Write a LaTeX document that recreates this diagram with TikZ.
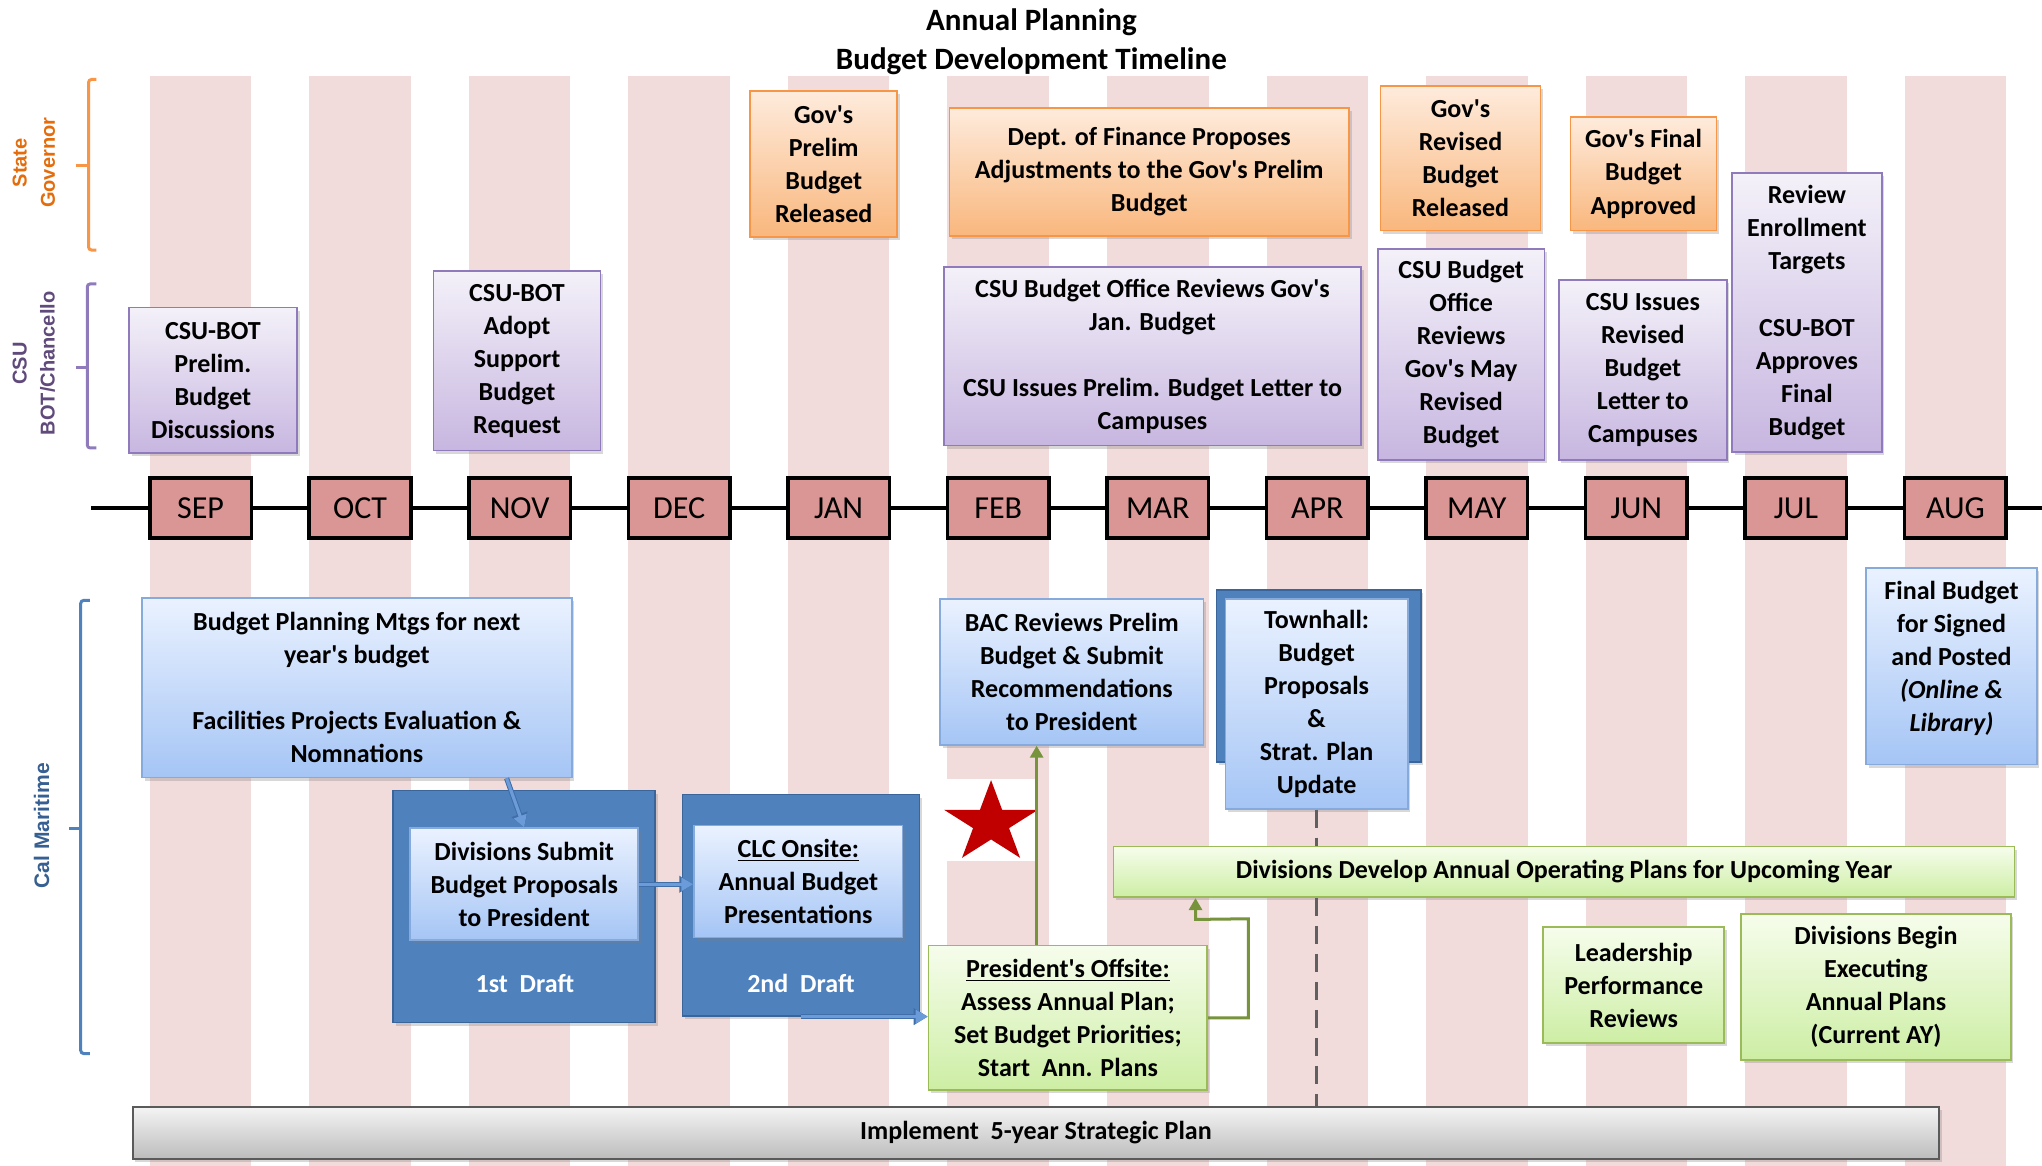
\documentclass[tikz,border=0pt]{standalone}
\usepackage{fontspec}
\setmainfont{Carlito}
\newfontfamily\lblfont{Liberation Sans}
\usetikzlibrary{shadows,arrows.meta,calc}
\definecolor{stripe}{HTML}{F2DCDB}
\definecolor{monthfill}{HTML}{DA9694}
\definecolor{oTop}{HTML}{FEEBDC}
\definecolor{oBot}{HTML}{F9B77D}
\definecolor{oBd}{HTML}{F79646}
\definecolor{pTop}{HTML}{F4F1F9}
\definecolor{pBot}{HTML}{C7B6E0}
\definecolor{pBd}{HTML}{8F7BBB}
\definecolor{bTop}{HTML}{EAF2FF}
\definecolor{bBot}{HTML}{A5C5F5}
\definecolor{bBd}{HTML}{86AADB}
\definecolor{dBl}{HTML}{4F81BD}
\definecolor{dBd}{HTML}{3A659B}
\definecolor{bArr}{HTML}{6B9BD8}
\definecolor{bArrEdge}{HTML}{3F6EA8}
\definecolor{gTop}{HTML}{F6FDEC}
\definecolor{gBot}{HTML}{CDEEA4}
\definecolor{gBd}{HTML}{9BBB59}
\definecolor{grTop}{HTML}{F4F4F4}
\definecolor{grBot}{HTML}{BCBCBC}
\definecolor{grBd}{HTML}{5A5A5A}
\definecolor{orLbl}{HTML}{E46C0A}
\definecolor{puLbl}{HTML}{604A7B}
\definecolor{blLbl}{HTML}{376092}
\definecolor{garr}{HTML}{77933C}
\definecolor{starred}{HTML}{C00000}
\newcommand\q{\textquotesingle}
\newcommand\mkbox[7]{\node[#2, minimum width={(#5-#3)*0.65pt}, minimum height={(#6-#4)*0.65pt}] (#1) at ({(#3+#5)/2},{(#4+#6)/2}) {#7};}
\tikzset{
  common/.style={draw, align=center, inner sep=0pt, line width=0.8pt,
    font=\bfseries\fontsize{13}{16.5}\selectfont,
    drop shadow={opacity=0.3, shadow xshift=1.3pt, shadow yshift=-1.6pt}},
  orangebox/.style={common, draw=oBd, top color=oTop, bottom color=oBot},
  purplebox/.style={common, draw=pBd, top color=pTop, bottom color=pBot},
  bluebox/.style={common, draw=bBd, top color=bTop, bottom color=bBot},
  darkbox/.style={common, draw=dBd, fill=dBl},
  greenbox/.style={common, draw=gBd, top color=gTop, bottom color=gBot},
  graybar/.style={common, draw=grBd, line width=1pt, top color=grTop, bottom color=grBot},
  monthbox/.style={draw=black, line width=1.8pt, fill=monthfill, inner sep=0pt,
    minimum width=78*0.65pt, minimum height=46*0.65pt, font=\fontsize{16}{18}\selectfont},
  whitelbl/.style={text=white, font=\bfseries\fontsize{13}{16.5}\selectfont},
  plaintxt/.style={align=center, inner sep=0pt, font=\bfseries\fontsize{13}{16.5}\selectfont},
  bluearr/.style={draw=bArr, line width=1.6pt, -{Triangle[length=6pt,width=6.5pt]},
    preaction={draw=bArrEdge, line width=2.6pt, -{Triangle[length=7pt,width=8pt]}}},
  greenarr/.style={draw=garr, line width=1.5pt, -{Triangle[length=6pt,width=6.5pt]}},
  bracket/.style={line width=1.5pt, rounded corners=1.5pt},
  sidelbl/.style={rotate=90, align=center, inner sep=0pt, font=\lblfont\bfseries\fontsize{10}{14}\selectfont}
}
\begin{document}
\begin{tikzpicture}[x=0.65pt,y=-0.65pt]
\useasboundingbox[fill=white] (0,0) rectangle (1568,895);
% stripes
\foreach \i in {0,...,11} \fill[stripe] ({115+122.5*\i},58) rectangle ({193+122.5*\i},895);
% title
\node[align=center, font=\bfseries\fontsize{15.5}{19.5}\selectfont] (title) at (792,32) {Annual Planning\\Budget Development Timeline};
% timeline
\coordinate (tlstart) at (70,390);
\coordinate (tlend) at (1568,390);
\draw[line width=2pt] (tlstart) -- (tlend);
\foreach \m [count=\i from 0] in {SEP,OCT,NOV,DEC,JAN,FEB,MAR,APR,MAY,JUN,JUL,AUG}
  \node[monthbox] (m\i) at ({154+122.5*\i},390) {\m};
% side brackets
\draw[bracket, oBd] (74,61) -- (68,61) -- (68,192) -- (74,192);
\draw[line width=1.5pt, oBd] (58,127) -- (68,127);
\node[sidelbl, text=orLbl] (lgov) at (26,125) {State\\Governor};
\draw[bracket, pBd] (74,218) -- (67,218) -- (67,344) -- (74,344);
\draw[line width=1.5pt, pBd] (58,282) -- (67,282);
\node[sidelbl, text=puLbl] (lcsu) at (26,279) {CSU\\BOT/Chancello};
\draw[bracket, dBl] (69,461) -- (62,461) -- (62,809) -- (69,809);
\draw[line width=1.5pt, dBl] (53,636) -- (62,636);
\node[sidelbl, text=blLbl, font=\lblfont\bfseries\fontsize{10.5}{14}\selectfont] (lcal) at (32,634) {Cal Maritime};
% governor boxes
\mkbox{gA}{orangebox}{576}{70}{689}{182}{Gov\q s\\Prelim\\Budget\\Released}
\mkbox{gB}{orangebox}{729}{83}{1036}{181}{Dept. of Finance Proposes\\Adjustments to the Gov\q s Prelim\\Budget}
\mkbox{gC}{orangebox}{1060}{66}{1183}{177}{Gov\q s\\Revised\\Budget\\Released}
\mkbox{gD}{orangebox}{1206}{90}{1318}{177}{Gov\q s Final\\Budget\\Approved}
% CSU boxes
\mkbox{p1}{purplebox}{99}{236}{228}{348}{CSU-BOT\\Prelim.\\Budget\\Discussions}
\mkbox{p2}{purplebox}{333}{208}{461}{346}{CSU-BOT\\Adopt\\Support\\Budget\\Request}
\mkbox{p3}{purplebox}{725}{205}{1045}{342}{CSU Budget Office Reviews Gov\q s\\Jan. Budget\\~\\CSU Issues Prelim. Budget Letter to\\Campuses}
\mkbox{p4}{purplebox}{1058}{191}{1186}{353}{CSU Budget\\Office\\Reviews\\Gov\q s May\\Revised\\Budget}
\mkbox{p5}{purplebox}{1197}{215}{1326}{353}{CSU Issues\\Revised\\Budget\\Letter to\\Campuses}
\mkbox{p6}{purplebox}{1330}{133}{1445}{347}{Review\\Enrollment\\Targets\\~\\CSU-BOT\\Approves\\Final\\Budget}
% Cal Maritime boxes
\mkbox{b1}{bluebox}{109}{459}{439}{597}{Budget Planning Mtgs for next\\year\q s budget\\~\\Facilities Projects Evaluation \&\\Nomnations}
\mkbox{d1}{darkbox}{302}{607}{503}{785}{}
\mkbox{d2}{darkbox}{524}{610}{706}{780}{}
\mkbox{b2}{bluebox}{315}{636}{490}{722}{Divisions Submit\\Budget Proposals\\to President}
\mkbox{b3}{bluebox}{533}{634}{693}{720}{\underline{CLC Onsite:}\\Annual Budget\\Presentations}
\node[whitelbl] (t1) at (403,755) {1st~ Draft};
\node[whitelbl] (t2) at (615,755) {2nd~ Draft};
\mkbox{bac}{bluebox}{722}{460}{924}{572}{BAC Reviews Prelim\\Budget \& Submit\\Recommendations\\to President}
\mkbox{thd}{darkbox}{934}{453}{1091}{585}{}
\mkbox{th}{bluebox}{941}{460}{1081}{621}{Townhall:\\Budget\\Proposals\\\&\\Strat. Plan\\Update}
\mkbox{fin}{bluebox}{1433}{436}{1564}{587}{}
\node[plaintxt] (fintxt) at ($(fin.center)+(0,-6)$) {Final Budget\\for Signed\\and Posted\\\textit{(Online \&}\\\textit{Library)}};
\mkbox{pres}{greenbox}{713}{726}{927}{837}{\underline{President\q s Offsite:}\\Assess Annual Plan;\\Set Budget Priorities;\\Start~ Ann. Plans}
\mkbox{dev}{greenbox}{855}{650}{1547}{689}{Divisions Develop Annual Operating Plans for Upcoming Year}
\mkbox{lead}{greenbox}{1185}{712}{1324}{801}{Leadership\\Performance\\Reviews}
\mkbox{beg}{greenbox}{1337}{702}{1544}{814}{Divisions Begin\\Executing\\Annual Plans\\(Current AY)}
\mkbox{bar}{graybar}{102}{850}{1489}{890}{Implement~ 5-year Strategic Plan}
% dashed line
\draw[line width=1.7pt, draw=gray!75!black, dash pattern=on 9pt off 5pt] (th.south) -- (th.south |- dev.north);
\draw[line width=1.7pt, draw=gray!75!black, dash pattern=on 9pt off 5pt] (th.south |- dev.south) -- (th.south |- bar.north);
% star
\fill[white] (724,598) rectangle (797,661);
\fill[starred] (761,599) -- (752.5,621.8) -- (724.9,621.8) -- (747.2,635.9) -- (738.7,658.7) -- (761,644.6) -- (783.3,658.7) -- (774.8,635.9) -- (797.1,621.8) -- (769.5,621.8) -- cycle;
% arrows
\draw[bluearr] ($(b1.south)+(115,0)$) -- (b2.north);
\draw[bluearr] (b2.east) -- (b2.east -| b3.west);
\draw[bluearr] (d2.south) -- (d2.south -| pres.west);
\coordinate (g1) at ($(pres.north)+(-24,0)$);
\draw[greenarr] (g1) -- (g1 |- bac.south);
\coordinate (k1) at (918,706);
\draw[greenarr] (pres.east) -| ($(pres.east)+(31,-76)$) -- (k1) -- (k1 |- dev.south);
\end{tikzpicture}
\end{document}
